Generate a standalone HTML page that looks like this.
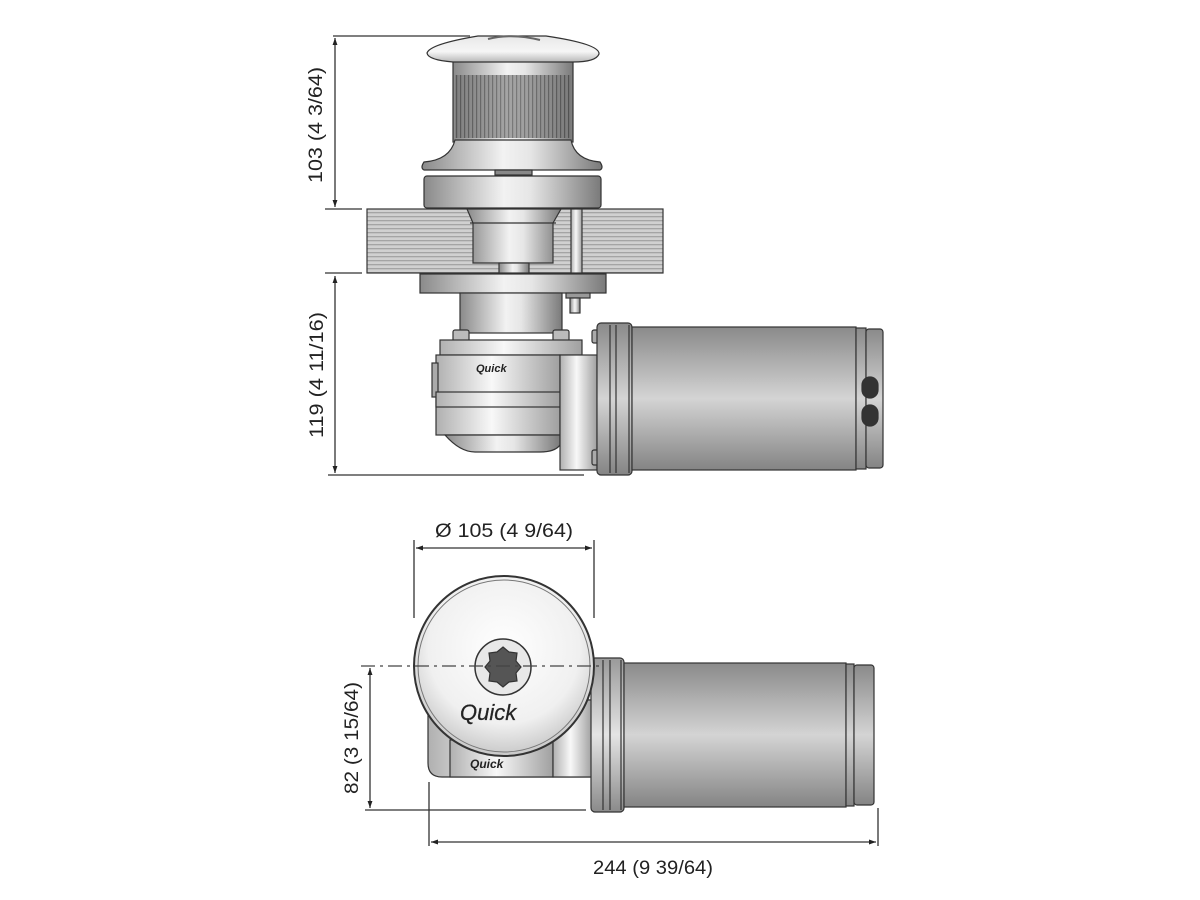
<!DOCTYPE html>
<html><head><meta charset="utf-8"><style>
html,body{margin:0;padding:0;background:#fff;width:1200px;height:900px;overflow:hidden}
svg{display:block}
text{font-family:"Liberation Sans",Arial,sans-serif;fill:#222}
</style></head><body>
<svg width="1200" height="900" viewBox="0 0 1200 900" xmlns="http://www.w3.org/2000/svg">
<defs>
<linearGradient id="mh" x1="0" x2="1" y1="0" y2="0">
<stop offset="0" stop-color="#8a8a8a"/><stop offset="0.45" stop-color="#f2f2f2"/><stop offset="0.6" stop-color="#e6e6e6"/><stop offset="1" stop-color="#7a7a7a"/></linearGradient>
<linearGradient id="mhl" x1="0" x2="1" y1="0" y2="0">
<stop offset="0" stop-color="#b0b0b0"/><stop offset="0.45" stop-color="#f8f8f8"/><stop offset="1" stop-color="#a0a0a0"/></linearGradient>
<linearGradient id="mv" x1="0" x2="0" y1="0" y2="1">
<stop offset="0" stop-color="#8a8a8a"/><stop offset="0.5" stop-color="#d4d4d4"/><stop offset="1" stop-color="#848484"/></linearGradient>
<linearGradient id="mvl" x1="0" x2="0" y1="0" y2="1">
<stop offset="0" stop-color="#9a9a9a"/><stop offset="0.5" stop-color="#e4e4e4"/><stop offset="1" stop-color="#8a8a8a"/></linearGradient>
<linearGradient id="dome" x1="0" x2="0" y1="0" y2="1">
<stop offset="0" stop-color="#e8e8e8"/><stop offset="0.6" stop-color="#f6f6f6"/><stop offset="1" stop-color="#b8b8b8"/></linearGradient>
<radialGradient id="disc" cx="0.5" cy="0.4" r="0.6">
<stop offset="0" stop-color="#ffffff"/><stop offset="0.7" stop-color="#f0f0f0"/><stop offset="1" stop-color="#c8c8c8"/></radialGradient>
<pattern id="deck" width="4" height="4" patternUnits="userSpaceOnUse">
<rect width="4" height="4" fill="#d0d0d0"/><rect y="0" width="4" height="1.3" fill="#a4a4a4"/></pattern>
<pattern id="drum" width="4" height="4" patternUnits="userSpaceOnUse">
<rect width="4" height="4" fill="#7a7a7a"/><rect x="0" width="1.2" height="4" fill="#3a3a3a"/></pattern>
<marker id="ar" viewBox="0 0 10 10" refX="10" refY="5" markerWidth="9" markerHeight="7" orient="auto-start-reverse" markerUnits="userSpaceOnUse">
<path d="M0,1.5 L10,5 L0,8.5 Z" fill="#222"/></marker>
</defs>

<!-- ============ TOP VIEW (elevation) ============ -->
<g stroke="#333" stroke-width="1.3">
<line x1="333" y1="36" x2="470" y2="36"/>
<line x1="325" y1="209" x2="362" y2="209"/>
<line x1="325" y1="273" x2="362" y2="273"/>
<line x1="328" y1="475" x2="584" y2="475"/>
<line x1="335" y1="38" x2="335" y2="207" marker-start="url(#ar)" marker-end="url(#ar)"/>
<line x1="335" y1="276" x2="335" y2="473" marker-start="url(#ar)" marker-end="url(#ar)"/>
</g>
<text transform="translate(322,125) rotate(-90)" font-size="19" text-anchor="middle" textLength="116" lengthAdjust="spacingAndGlyphs">103 (4 3/64)</text>
<text transform="translate(323,375) rotate(-90)" font-size="19" text-anchor="middle" textLength="126" lengthAdjust="spacingAndGlyphs">119 (4 11/16)</text>

<g stroke="#333" stroke-width="1.2">
<rect x="453" y="60" width="120" height="82" fill="url(#mh)"/>
<rect x="455" y="75" width="116" height="63" fill="url(#drum)" stroke="none"/>
<rect x="455" y="75" width="116" height="63" fill="url(#mh)" opacity="0.35" stroke="none"/>
<path d="M478,36 L546,36 Q600,44 599,54 Q596,62 573,62 L453,62 Q428,60 427,53 Q430,44 478,36 Z" fill="url(#dome)"/>
<path d="M488,39 Q512,33 540,40" fill="none" stroke="#666" stroke-width="2"/>
<path d="M455,140 L571,140 Q575,160 600,162 Q604,168 600,170 L424,170 Q420,168 424,162 Q450,160 455,140 Z" fill="url(#mh)"/>
<rect x="495" y="170" width="37" height="5" fill="#888"/>
<rect x="424" y="176" width="177" height="32" rx="3" fill="url(#mh)"/>
<rect x="367" y="209" width="296" height="64" fill="url(#deck)"/>
<path d="M467,209 L561,209 L553,223 L553,263 L473,263 L473,223 Z" fill="url(#mh)"/>
<line x1="470" y1="223" x2="556" y2="223"/>
<rect x="499" y="263" width="30" height="10" fill="url(#mh)"/>
<rect x="571" y="209" width="11" height="64" fill="url(#mhl)"/>
<rect x="420" y="274" width="186" height="19" fill="url(#mh)"/>
<rect x="460" y="293" width="102" height="40" fill="url(#mh)"/>
<rect x="566" y="293" width="24" height="5" fill="#999"/>
<rect x="570" y="298" width="10" height="15" fill="url(#mh)"/>
<rect x="453" y="330" width="16" height="12" rx="2" fill="#bbb"/>
<rect x="553" y="330" width="16" height="12" rx="2" fill="#bbb"/>
<rect x="440" y="340" width="142" height="15" fill="url(#mhl)"/>
<rect x="436" y="355" width="124" height="80" fill="url(#mhl)"/>
<rect x="432" y="363" width="6" height="34" fill="#aaa"/>
<rect x="436" y="392" width="124" height="15" fill="url(#mhl)"/>
<path d="M445,435 L560,435 L560,445 Q555,452 540,452 L475,452 Q460,452 445,435 Z" fill="url(#mh)"/>
<rect x="560" y="355" width="37" height="115" fill="url(#mhl)"/>
<rect x="592" y="330" width="7" height="13" rx="2" fill="#aaa"/>
<rect x="592" y="450" width="7" height="15" rx="2" fill="#aaa"/>
<rect x="597" y="323" width="35" height="152" rx="4" fill="url(#mv)"/>
<line x1="610" y1="325" x2="610" y2="473"/>
<line x1="616" y1="325" x2="616" y2="473"/>
<line x1="629" y1="325" x2="629" y2="473"/>
<rect x="632" y="327" width="224" height="143" fill="url(#mv)"/>
<rect x="856" y="328" width="10" height="141" fill="url(#mv)"/>
<rect x="866" y="329" width="17" height="139" rx="3" fill="url(#mv)"/>
<rect x="862" y="377" width="16" height="21" rx="8" fill="#333"/>
<rect x="862" y="405" width="16" height="21" rx="8" fill="#333"/>
</g>
<text x="476" y="372" font-size="11" font-style="italic" font-weight="bold" fill="#444">Quick</text>

<!-- ============ BOTTOM VIEW (plan) ============ -->
<g stroke="#333" stroke-width="1.3">
<line x1="414" y1="540" x2="414" y2="618"/>
<line x1="594" y1="540" x2="594" y2="618"/>
<line x1="416" y1="548" x2="592" y2="548" marker-start="url(#ar)" marker-end="url(#ar)"/>
<line x1="365" y1="810" x2="586" y2="810"/>
<line x1="370" y1="668" x2="370" y2="808" marker-start="url(#ar)" marker-end="url(#ar)"/>
<line x1="429" y1="782" x2="429" y2="846"/>
<line x1="878" y1="808" x2="878" y2="846"/>
<line x1="431" y1="842" x2="876" y2="842" marker-start="url(#ar)" marker-end="url(#ar)"/>
</g>
<text x="504" y="537" font-size="19" text-anchor="middle" textLength="138" lengthAdjust="spacingAndGlyphs">Ø 105 (4 9/64)</text>
<text transform="translate(358,738) rotate(-90)" font-size="19" text-anchor="middle" textLength="112" lengthAdjust="spacingAndGlyphs">82 (3 15/64)</text>
<text x="653" y="874" font-size="19" text-anchor="middle" textLength="120" lengthAdjust="spacingAndGlyphs">244 (9 39/64)</text>

<g stroke="#333" stroke-width="1.2">
<path d="M428,700 L592,700 L592,777 L442,777 Q428,777 428,763 Z" fill="url(#mhl)"/>
<rect x="450" y="740" width="103" height="37" fill="url(#mhl)"/>
<rect x="553" y="700" width="39" height="77" fill="url(#mhl)"/>
<rect x="591" y="658" width="33" height="154" rx="4" fill="url(#mvl)"/>
<line x1="603" y1="660" x2="603" y2="810"/>
<line x1="610" y1="660" x2="610" y2="810"/>
<line x1="621" y1="660" x2="621" y2="810"/>
<rect x="624" y="663" width="222" height="144" fill="url(#mv)"/>
<rect x="846" y="664" width="8" height="142" fill="url(#mv)"/>
<rect x="854" y="665" width="20" height="140" rx="3" fill="url(#mv)"/>
<circle cx="504" cy="666" r="90" fill="url(#disc)" stroke-width="2"/>
<circle cx="504" cy="666" r="86" fill="none" stroke="#777" stroke-width="1"/>
<circle cx="503" cy="667" r="28" fill="#e8e8e8" stroke-width="1.5"/>
<polygon fill="#555" points="503,647 509,652 517,653 516,661 521,667 516,673 517,681 509,682 503,687 497,682 489,681 490,673 485,667 490,661 489,653 497,652"/>
</g>
<text x="460" y="720" font-size="22" font-style="italic" font-family="Liberation Serif,serif" fill="#333" stroke="#333" stroke-width="0.3">Quick</text>
<text x="470" y="768" font-size="12" font-style="italic" font-weight="bold" fill="#444">Quick</text>
<line x1="361" y1="666" x2="600" y2="666" stroke="#444" stroke-width="1.2" stroke-dasharray="14,5,3,5"/>
</svg>
</body></html>
